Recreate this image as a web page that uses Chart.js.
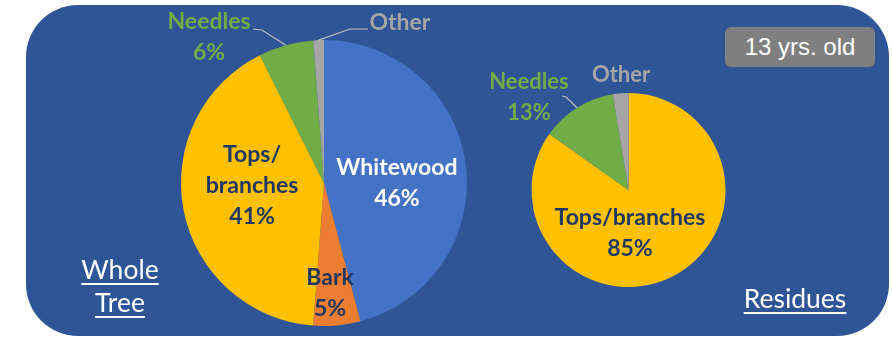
<!DOCTYPE html>
<html>
<head>
<meta charset="utf-8">
<script src="https://cdn.jsdelivr.net/npm/chart.js@4.4.0/dist/chart.umd.min.js"></script>
<style>
  html, body { margin: 0; padding: 0; background: #fff; }
  #wrap { position: relative; width: 892px; height: 339px; overflow: hidden; }
  #panel { position: absolute; left: 26px; top: 5px; width: 863px; height: 331px;
           background: #2F5597; border-radius: 52px; }
  canvas { position: absolute; left: 0; top: 0; }
  .age { position: absolute; left: 725px; top: 27px; width: 150px; height: 40px;
         background: #7F7F7F; border-radius: 6px; color: #fff;
         font: 24px "Liberation Sans", Arial, sans-serif; line-height: 40px; text-align: center; }
  .cap { position: absolute; color: #fff; font: 26.5px Lato, sans-serif; text-align: center;
         text-decoration: underline; text-underline-offset: 4px; text-decoration-thickness: 2px; }
</style>
</head>
<body>
<div id="wrap">
  <div id="panel"></div>
  <canvas id="whole" width="892" height="339"></canvas>
  <canvas id="resid" width="892" height="339"></canvas>
  <div class="age">13 yrs. old</div>
  <div class="cap" style="left:60px; top:253px; width:120px; line-height:33px;">Whole<br>Tree</div>
  <div class="cap" style="left:735px; top:282px; width:120px; line-height:33px;">Residues</div>
</div>
<script>
// whole tree, 13 years old
var wholeLabels = ['Whitewood', 'Bark', 'Tops/branches', 'Needles', 'Other'];
var wholeValues = [45.9, 5.3, 41.4, 6.2, 1.2];

// residues only
var residLabels = ['Tops/branches', 'Needles', 'Other'];
var residValues = [84.8, 12.6, 2.6];

var sliceColors = {
  'Whitewood': '#4472C4',
  'Bark': '#ED7D31',
  'Tops/branches': '#FFC000',
  'Needles': '#70AD47',
  'Other': '#A5A5A5'
};

var NAVY = '#1F3864';
var LEADER = '#BFBFBF';

// label placement, in units of the pie radius from its centre
var wholePlace = [
  { text: ['Whitewood'], pct: true, dx: 0.51, dy: 0.0, color: '#fff', size: 23 },
  { text: ['Bark'], pct: true, dx: 0.042, dy: 0.77, color: NAVY, size: 23 },
  { text: ['Tops/', 'branches'], pct: true, dx: -0.503, dy: 0.021, color: NAVY, size: 23 },
  { text: ['Needles'], pct: true, dx: -0.804, dy: -1.023, color: '#70AD47', size: 23,
    leader: [[-0.434, -1.07], [-0.497, -1.077]] },
  { text: ['Other'], pct: false, dx: 0.531, dy: -1.119, color: '#A5A5A5', size: 23,
    leader: [[0.182, -1.077], [0.308, -1.077]] }
];
var residPlace = [
  { text: ['Tops/branches'], pct: true, dx: 0.015, dy: 0.443, color: NAVY, size: 23 },
  { text: ['Needles'], pct: true, dx: -1.026, dy: -0.955, color: '#70AD47', size: 22,
    leader: [[-0.644, -0.959], [-0.685, -0.969]] },
  { text: ['Other'], pct: false, dx: -0.077, dy: -1.186, color: '#A5A5A5', size: 22 }
];

var sliceLabels = {
  id: 'sliceLabels',
  afterDatasetsDraw: function(chart, args, opts) {
    var ctx = chart.ctx;
    var meta = chart.getDatasetMeta(0);
    var values = chart.data.datasets[0].data;
    var total = values.reduce(function(a, b) { return a + b; }, 0);

    opts.items.forEach(function(it, i) {
      var p = meta.data[i].getProps(['x', 'y', 'startAngle', 'endAngle', 'outerRadius'], true);
      var r = p.outerRadius;

      ctx.save();
      if (it.leader) {
        var mid = (p.startAngle + p.endAngle) / 2;
        ctx.strokeStyle = LEADER;
        ctx.lineWidth = 1.2;
        ctx.beginPath();
        ctx.moveTo(p.x + Math.cos(mid) * r, p.y + Math.sin(mid) * r);
        it.leader.forEach(function(pt) { ctx.lineTo(p.x + pt[0] * r, p.y + pt[1] * r); });
        ctx.stroke();
      }

      var lines = it.text.slice();
      if (it.pct) lines.push(Math.round(values[i] / total * 100) + '%');
      var lh = 31;
      var cx = p.x + it.dx * r;
      var cy = p.y + it.dy * r - (lines.length - 1) * lh / 2;
      ctx.font = 'bold ' + it.size + 'px Lato, sans-serif';
      ctx.fillStyle = it.color;
      ctx.textAlign = 'center';
      ctx.textBaseline = 'middle';
      lines.forEach(function(s, k) { ctx.fillText(s, cx, cy + k * lh); });
      ctx.restore();
    });
  }
};

function makePie(id, labels, values, pad, place) {
  return new Chart(document.getElementById(id).getContext('2d'), {
    type: 'pie',
    data: {
      labels: labels,
      datasets: [{
        data: values,
        backgroundColor: labels.map(function(l) { return sliceColors[l]; }),
        borderWidth: 0
      }]
    },
    options: {
      responsive: false,
      animation: false,
      layout: { padding: pad },
      plugins: {
        legend: { display: false },
        tooltip: { enabled: false },
        sliceLabels: { items: place }
      }
    },
    plugins: [sliceLabels]
  });
}

makePie('whole', wholeLabels, wholeValues, { left: 181, right: 425, top: 40, bottom: 13 }, wholePlace);
makePie('resid', residLabels, residValues, { left: 531, right: 166, top: 93, bottom: 52 }, residPlace);
</script>
</body>
</html>
